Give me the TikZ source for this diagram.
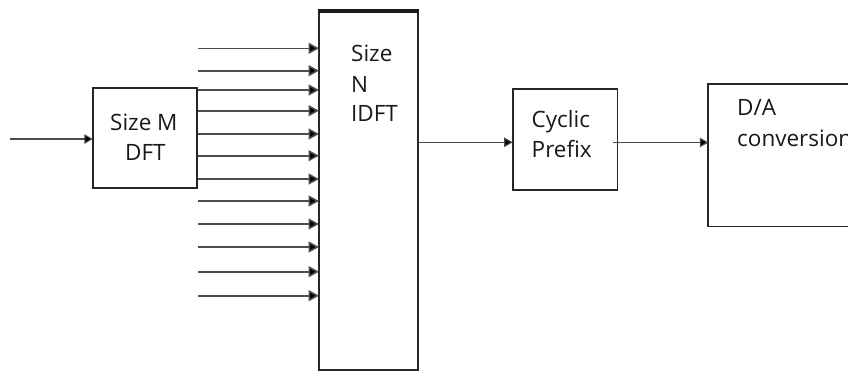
\documentclass[tikz,border=0pt]{standalone}
\usepackage{fontspec}
\setmainfont{Open Sans}
\usetikzlibrary{arrows.meta}
\begin{document}
\begin{tikzpicture}[x=1pt,y=-1pt,
  blk/.style={draw=black!85,line width=1.6pt,inner sep=0pt,outer sep=0pt},
  txt/.style={inner sep=0pt,anchor=base west,font=\fontsize{22.5}{30}\selectfont,text=black!90},
  arr/.style={draw=black!70,line width=1.6pt,-{Triangle[length=10.5pt,width=11pt,fill=black]}},
  arrthin/.style={draw=black!70,line width=1.1pt,-{Triangle[length=8.5pt,width=9.5pt,fill=black]}}]
\path[use as bounding box,clip] (0,0) rectangle (848,372);
\fill[white] (0,0) rectangle (848,372);
% boxes
\node[blk,minimum width=104pt,minimum height=100pt] (dft) at (144.8,138) {};
\node[blk,minimum width=99pt,minimum height=360pt] (idft) at (368.5,190) {};
\draw[line width=3.4pt,black!90] (idft.north west) ++(-0.8,1) -- ++(100.6,0);
\node[blk,minimum width=104.6pt,minimum height=101pt] (cyc) at (565,139.5) {};
\node[blk,line width=1.8pt,minimum width=160pt,minimum height=142.5pt] (da) at (788.3,155.3) {};
% texts
\node[txt] (t1) at (110,130) {Size M};
\node[txt] (t2) at (125,160) {DFT};
\node[txt] (t3) at (351,61.7) {Size};
\node[txt] (t4) at (351,92.2) {N};
\node[txt] (t5) at (351,121.5) {IDFT};
\node[txt] (t6) at (531.5,127) {Cyclic};
\node[txt] (t7) at (531.5,157) {Prefix};
\node[txt] (t8) at (737,115) {D/A};
\node[txt] (t9) at (737,146) {conversion};
% input
\coordinate (in) at (10,139);
\draw[arrthin] (in) -- (in -| dft.west);
% parallel arrows
\foreach \i/\y in {1/48.3,2/70.7,3/90,4/110.7,5/134,6/155.7,7/179,8/201,9/224,10/247,11/271.7,12/295.7}{
  \coordinate (s\i) at (198,\y);
  \draw[arr] (s\i) -- (s\i -| idft.west);
}
% output chain
\coordinate (o1) at (418.5,142.3);
\draw[arrthin] (o1) -- (o1 -| cyc.west);
\coordinate (o2) at (613,142.5);
\draw[arrthin] (o2) -- (o2 -| da.west);
\end{tikzpicture}
\end{document}
